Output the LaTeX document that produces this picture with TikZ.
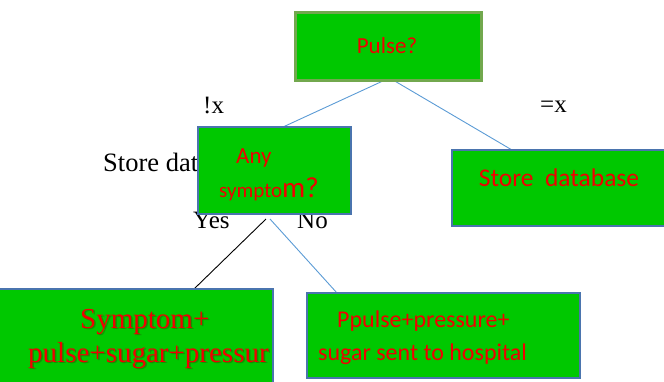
\documentclass[tikz,border=0pt]{standalone}
\usepackage{fontspec}
\setmainfont{Liberation Serif}
\newfontfamily\calfont{Carlito}
\usetikzlibrary{backgrounds}
\definecolor{boxgreen}{HTML}{00C800}
\definecolor{pulseedge}{HTML}{72A84E}
\definecolor{boxedge}{HTML}{4A74AE}
\definecolor{linkblue}{HTML}{5B9BD5}
\definecolor{txtred}{HTML}{F00000}
\definecolor{shadowgreen}{HTML}{1E6A00}
\tikzset{
  box/.style={draw=boxedge, line width=2.2pt, fill=boxgreen, inner sep=0pt, outer sep=0pt},
  lbl/.style={anchor=base west, inner sep=0pt, font=\fontsize{25}{29}\selectfont},
  redtxt/.style={text=txtred, inner sep=0pt},
  link/.style={draw=linkblue, line width=0.9pt},
  blink/.style={draw=black, line width=0.9pt}
}
\begin{document}
\begin{tikzpicture}[x=1pt,y=-1pt]
\useasboundingbox (0,0) rectangle (664,381);
\clip (0,0) rectangle (664,381);

% serif labels
\node[lbl] (notx) at (203,113) {!x};
\node[lbl] (eqx) at (540,112) {=x};
\node[lbl, font=\fontsize{26.5}{30}\selectfont] (hidden) at (103,171) {Store database};
\node[lbl] (yes) at (193,228) {Yes};
\node[lbl] (no) at (297,228) {No};

% boxes
\node[box, draw=pulseedge, line width=3pt, minimum width=186pt, minimum height=68pt] (pulse) at (388,46) {};
\node[redtxt, font=\calfont\fontsize{23}{27}\selectfont] (pulset) at (387,46) {Pulse?};

\node[box, minimum width=153pt, minimum height=87pt] (anysym) at (274.5,170.5) {};
\node[redtxt, anchor=base west, font=\calfont\fontsize{23}{27}\selectfont] (anyt) at (236,163) {Any};
\node[redtxt, anchor=base west, font=\calfont\fontsize{21}{25}\selectfont] (sympt) at (219,197) {sympto{\fontsize{29}{33}\selectfont m?}};

\node[box, minimum width=226pt, minimum height=76pt] (storedb) at (565,188) {};
\node[redtxt, font=\calfont\fontsize{25.5}{30}\selectfont] (storedbt) at (559,178) {Store\ \ database};

\node[box, minimum width=283pt, minimum height=106pt] (symbox) at (131.5,342) {};
\node[text=shadowgreen, opacity=0.55, inner sep=0pt, anchor=base west, font=\fontsize{29}{33}\selectfont] (symsh1) at (81.5,329.5) {Symptom+};
\node[redtxt, anchor=base west, font=\fontsize{29}{33}\selectfont] (symt1) at (80,328) {Symptom+};
\node[text=shadowgreen, opacity=0.55, inner sep=0pt, anchor=base west, font=\fontsize{29}{33}\selectfont] (symsh2) at (29.5,363.5) {pulse+sugar+pressur};
\node[redtxt, anchor=base west, font=\fontsize{29}{33}\selectfont] (symt2) at (28,362) {pulse+sugar+pressur};

\node[box, minimum width=273pt, minimum height=85pt] (ppulse) at (443.5,335.5) {};
\node[redtxt, anchor=base west, font=\calfont\fontsize{24}{28}\selectfont] (ppt1) at (337,327) {Ppulse+pressure+};
\node[redtxt, anchor=base west, font=\calfont\fontsize{24}{28}\selectfont] (ppt2) at (318,360) {sugar sent to hospital};

% connectors
\begin{scope}[on background layer]
\draw[link] ([xshift=-3pt]pulse.south) -- ([xshift=8.5pt]anysym.north);
\draw[link] ([xshift=5pt]pulse.south) -- ([xshift=-53pt]storedb.north);
\draw[blink] ([xshift=-8.5pt,yshift=-5pt]anysym.south) -- ([xshift=62.5pt]symbox.north);
\draw[link] ([xshift=-4.5pt,yshift=-5pt]anysym.south) -- ([xshift=-106.5pt]ppulse.north);
\end{scope}
\end{tikzpicture}
\end{document}
